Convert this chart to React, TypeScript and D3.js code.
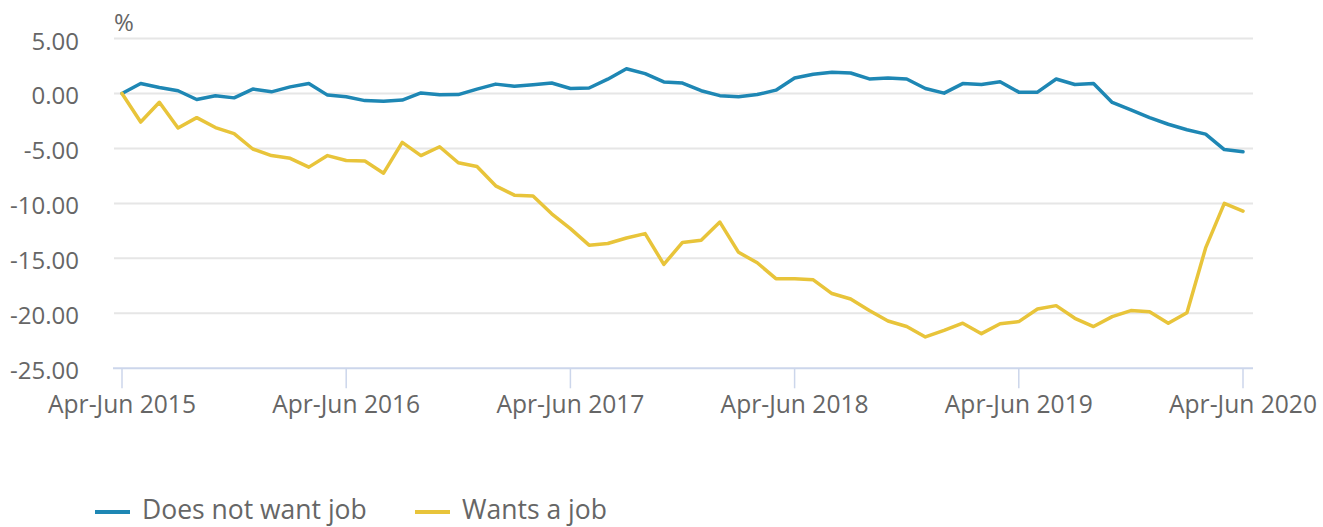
import React from "react";
import * as d3 from "d3";

const periodCount = 61;
const xTickIndices = [0, 12, 24, 36, 48, 60];
const xTickLabels = ["Apr-Jun 2015", "Apr-Jun 2016", "Apr-Jun 2017", "Apr-Jun 2018", "Apr-Jun 2019", "Apr-Jun 2020"];
const yTicks = [5, 0, -5, -10, -15, -20, -25];

const doesNotWantJob = [
  0, 0.9, 0.55, 0.25, -0.55, -0.2, -0.4, 0.4, 0.15, 0.6,
  0.9, -0.15, -0.3, -0.65, -0.7, -0.6, 0.05, -0.12, -0.1, 0.4,
  0.85, 0.65, 0.8, 0.95, 0.45, 0.5, 1.3, 2.25, 1.8, 1.05,
  0.95, 0.25, -0.2, -0.3, -0.1, 0.3, 1.4, 1.75, 1.92, 1.86,
  1.32, 1.4, 1.32, 0.45, 0.03, 0.9, 0.82, 1.06, 0.12, 0.12,
  1.32, 0.82, 0.91, -0.82, -1.5, -2.2, -2.8, -3.3, -3.7, -5.1,
  -5.3,
];

const wantsAJob = [
  0, -2.6, -0.8, -3.15, -2.2, -3.1, -3.65, -5.05, -5.65, -5.9,
  -6.7, -5.65, -6.1, -6.15, -7.25, -4.45, -5.65, -4.85, -6.3, -6.65,
  -8.4, -9.25, -9.33, -10.95, -12.3, -13.8, -13.65, -13.15, -12.75, -15.55,
  -13.55, -13.35, -11.7, -14.45, -15.4, -16.85, -16.85, -16.95, -18.2, -18.7,
  -19.75, -20.7, -21.2, -22.15, -21.55, -20.9, -21.85, -20.95, -20.75, -19.6,
  -19.3, -20.45, -21.2, -20.3, -19.75, -19.85, -20.9, -19.95, -14.05, -10.0,
  -10.7,
];

const seriesNames = ["Does not want job", "Wants a job"];
const seriesColors = ["#1e87b4", "#e8c43a"];

export default function App() {
  const width = 1323;
  const height = 527;
  const font = "'Open Sans', sans-serif";
  const textColor = "#666666";

  const x = d3.scaleLinear().domain([0, periodCount - 1]).range([122, 1243]);
  const y = d3.scaleLinear().domain([-25, 5]).range([368.3, 38.5]);

  const line = d3
    .line<number>()
    .x((_, i) => x(i))
    .y((d) => y(d));

  const data = [doesNotWantJob, wantsAJob];

  return (
    <svg
      width={width}
      height={height}
      style={{ position: "absolute", left: 0, top: 0, fontFamily: font }}
    >
      <rect width={width} height={height} fill="#ffffff" />
      {yTicks.filter((t) => t !== -25).map((t) => (
        <line key={t} x1={114} x2={1253} y1={y(t)} y2={y(t)} stroke="#e6e6e6" strokeWidth={2} />
      ))}
      {yTicks.map((t) => (
        <text key={`l${t}`} x={79} y={y(t) + 11} textAnchor="end" fontSize={24} fill={textColor}>
          {t.toFixed(2)}
        </text>
      ))}
      <text x={114} y={31} fontSize={24} fill={textColor}>%</text>
      <line x1={113} x2={1253} y1={y(-25)} y2={y(-25)} stroke="#ccd6eb" strokeWidth={2} />
      {xTickIndices.map((idx, k) => (
        <g key={idx}>
          <line x1={x(idx)} x2={x(idx)} y1={y(-25)} y2={y(-25) + 20} stroke="#ccd6eb" strokeWidth={1.5} />
          <text x={x(idx)} y={413} textAnchor="middle" fontSize={24.6} fill={textColor}>
            {xTickLabels[k]}
          </text>
        </g>
      ))}
      {data.map((s, k) => (
        <path
          key={seriesNames[k]}
          d={line(s) || ""}
          fill="none"
          stroke={seriesColors[k]}
          strokeWidth={3.5}
          strokeLinejoin="round"
          strokeLinecap="round"
        />
      ))}
      <g>
        <line x1={95} x2={130} y1={512} y2={512} stroke={seriesColors[0]} strokeWidth={4} />
        <text x={142} y={519} fontSize={26.5} fill={textColor}>{seriesNames[0]}</text>
        <line x1={415} x2={450} y1={512} y2={512} stroke={seriesColors[1]} strokeWidth={4} />
        <text x={462} y={519} fontSize={26.5} fill={textColor}>{seriesNames[1]}</text>
      </g>
    </svg>
  );
}
